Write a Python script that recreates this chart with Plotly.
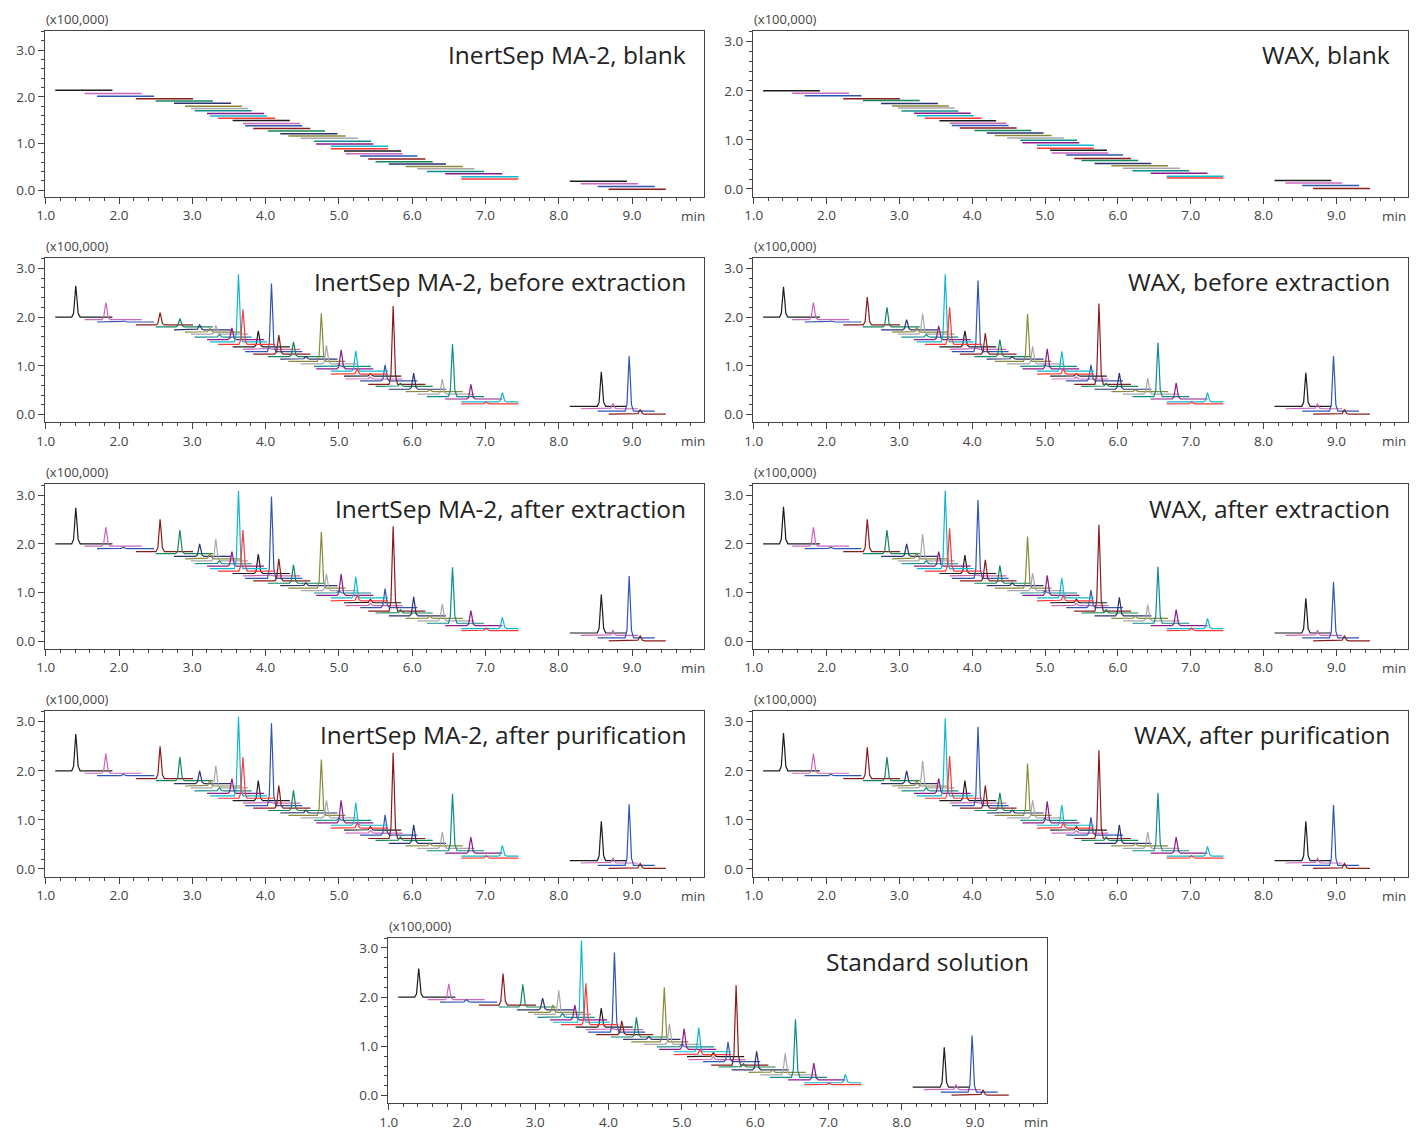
import plotly.graph_objects as go

# target positions are given in page pixels of the 1417x1131 view; the
# offset and slight shrink measured on the rendered page are compensated
OX, OY = 16, 8
SX, SY = 0.993, 0.997
W, H = 1401, 1123
VISIBLE_RIGHT = 1407

# 12-colour cycle used for the compound traces
COLORS = ["#1c1c1c", "#cc66bb", "#2f55b5", "#8b1c1c", "#13865a", "#2a3270",
          "#8a8a3a", "#a8a8a8", "#0e8c8c", "#8b1a8b", "#10b8d0", "#ff3838"]

# acquisition windows (min) of the 40 compound channels
WIN_START = [1.13, 1.53, 1.70, 2.23, 2.50, 2.75, 2.90, 2.98, 3.03, 3.20,
             3.24, 3.35, 3.55, 3.69, 3.72, 3.83, 4.03, 4.20, 4.31, 4.48,
             4.66, 4.69, 4.89, 4.89, 5.07, 5.09, 5.29, 5.40, 5.50, 5.68,
             5.91, 6.07, 6.20, 6.45, 6.67, 6.67, 8.15, 8.30, 8.53, 8.68]
WIN_END = [1.91, 2.31, 2.48, 3.01, 3.28, 3.53, 3.68, 3.76, 3.81, 3.98,
           4.02, 4.13, 4.33, 4.47, 4.50, 4.61, 4.81, 4.98, 5.09, 5.26,
           5.44, 5.47, 5.67, 5.67, 5.85, 5.87, 6.07, 6.18, 6.28, 6.46,
           6.69, 6.85, 6.98, 7.23, 7.45, 7.45, 8.93, 9.08, 9.31, 9.46]
# retention times (min)
RT = [1.41, 1.82, 2.06, 2.56, 2.83, 3.10, 3.24, 3.32, 3.37, 3.54,
      3.63, 3.69, 3.90, 4.05, 4.08, 4.18, 4.38, 4.55, 4.76, 4.83,
      5.00, 5.03, 5.23, 5.25, 5.43, 5.43, 5.63, 5.74, 5.84, 6.02,
      6.24, 6.41, 6.55, 6.80, 7.23, 7.01, 8.58, 8.74, 8.96, 9.11]

# baseline offsets (x100,000)
LEVEL_MA2_BLANK = [2.14, 2.07, 2.01, 1.96, 1.91, 1.86, 1.80, 1.75, 1.70, 1.64,
                   1.59, 1.54, 1.49, 1.43, 1.38, 1.32, 1.27, 1.21, 1.16, 1.11,
                   1.05, 0.99, 0.94, 0.89, 0.84, 0.78, 0.73, 0.67, 0.61, 0.56,
                   0.51, 0.46, 0.40, 0.35, 0.29, 0.24, 0.19, 0.14, 0.08, 0.02]
LEVEL = [2.00, 1.95, 1.90, 1.84, 1.80, 1.74, 1.69, 1.65, 1.59, 1.54,
         1.49, 1.44, 1.39, 1.34, 1.29, 1.24, 1.19, 1.14, 1.09, 1.04,
         0.99, 0.94, 0.89, 0.83, 0.79, 0.73, 0.69, 0.62, 0.58, 0.52,
         0.47, 0.42, 0.37, 0.32, 0.26, 0.22, 0.17, 0.12, 0.07, 0.01]

# peak heights above baseline (x100,000)
H_MA2_BEFORE = [0.64, 0.35, 0.02, 0.25, 0.17, 0.10, 0.08, 0.18, 0.05, 0.24,
                1.39, 0.72, 0.33, 0.02, 1.40, 0.39, 0.30, 0.05, 0.99, 0.38,
                0.03, 0.39, 0.42, 0.10, 0.05, 0.04, 0.33, 1.61, 0.06, 0.33,
                0.04, 0.31, 1.08, 0.30, 0.19, 0.04, 0.71, 0.10, 1.13, 0.09]
H_WAX_BEFORE = [0.62, 0.35, 0.02, 0.57, 0.40, 0.21, 0.10, 0.42, 0.05, 0.28,
                1.39, 0.76, 0.33, 0.02, 1.46, 0.43, 0.35, 0.05, 0.98, 0.36,
                0.03, 0.41, 0.41, 0.10, 0.05, 0.04, 0.33, 1.66, 0.06, 0.33,
                0.04, 0.33, 1.11, 0.33, 0.19, 0.04, 0.69, 0.10, 1.13, 0.09]
H_MA2_AFTER = [0.74, 0.39, 0.03, 0.66, 0.48, 0.26, 0.12, 0.44, 0.06, 0.30,
               1.60, 0.84, 0.40, 0.02, 1.68, 0.45, 0.38, 0.06, 1.15, 0.34,
               0.04, 0.44, 0.43, 0.10, 0.07, 0.05, 0.39, 1.74, 0.07, 0.39,
               0.05, 0.35, 1.15, 0.31, 0.23, 0.05, 0.79, 0.10, 1.27, 0.10]
H_WAX_AFTER = [0.76, 0.39, 0.03, 0.66, 0.48, 0.26, 0.12, 0.55, 0.06, 0.30,
               1.60, 0.88, 0.38, 0.02, 1.61, 0.43, 0.36, 0.06, 1.06, 0.36,
               0.04, 0.41, 0.41, 0.10, 0.07, 0.05, 0.36, 1.77, 0.07, 0.38,
               0.05, 0.33, 1.16, 0.33, 0.21, 0.05, 0.71, 0.10, 1.15, 0.10]
H_MA2_PURIF = [0.75, 0.40, 0.03, 0.66, 0.48, 0.26, 0.12, 0.45, 0.06, 0.30,
               1.61, 0.84, 0.41, 0.02, 1.68, 0.46, 0.41, 0.06, 1.14, 0.36,
               0.04, 0.46, 0.46, 0.10, 0.07, 0.05, 0.41, 1.75, 0.07, 0.38,
               0.05, 0.33, 1.16, 0.33, 0.22, 0.05, 0.80, 0.10, 1.25, 0.10]
H_WAX_PURIF = [0.77, 0.40, 0.03, 0.64, 0.48, 0.26, 0.12, 0.55, 0.06, 0.30,
               1.58, 0.86, 0.41, 0.02, 1.61, 0.46, 0.36, 0.06, 1.06, 0.36,
               0.04, 0.44, 0.41, 0.10, 0.07, 0.05, 0.36, 1.80, 0.07, 0.38,
               0.05, 0.33, 1.18, 0.33, 0.20, 0.05, 0.80, 0.10, 1.23, 0.10]
H_STANDARD = [0.58, 0.32, 0.05, 0.64, 0.46, 0.24, 0.15, 0.49, 0.08, 0.30,
              1.66, 0.84, 0.39, 0.02, 1.62, 0.28, 0.40, 0.06, 1.11, 0.42,
              0.05, 0.42, 0.49, 0.11, 0.08, 0.06, 0.40, 1.62, 0.07, 0.38,
              0.05, 0.44, 1.18, 0.34, 0.17, 0.04, 0.81, 0.10, 1.15, 0.10]

# peak profile template (offset in min, fraction of height)
PEAK_DT = [-0.055, -0.03, -0.015, 0.0, 0.015, 0.032, 0.06]
PEAK_FR = [0.0, 0.12, 0.62, 1.0, 0.62, 0.12, 0.0]

TITLES = ["InertSep MA-2, blank", "WAX, blank",
          "InertSep MA-2, before extraction", "WAX, before extraction",
          "InertSep MA-2, after extraction", "WAX, after extraction",
          "InertSep MA-2, after purification", "WAX, after purification",
          "Standard solution"]

# panel geometry in page pixels: (left, right, top, bottom)
COLS = {"L": (44, 703), "R": (752, 1407), "C": (387, 1046)}
ROWS = [(31, 197), (258, 423), (485, 650), (712, 878), (939, 1105)]

PANELS = [
    ("L", 0, LEVEL_MA2_BLANK, None, [-0.14, 3.41]),
    ("R", 0, LEVEL, None, [-0.16, 3.22]),
    ("L", 1, LEVEL, H_MA2_BEFORE, [-0.16, 3.22]),
    ("R", 1, LEVEL, H_WAX_BEFORE, [-0.16, 3.22]),
    ("L", 2, LEVEL, H_MA2_AFTER, [-0.16, 3.22]),
    ("R", 2, LEVEL, H_WAX_AFTER, [-0.16, 3.22]),
    ("L", 3, LEVEL, H_MA2_PURIF, [-0.16, 3.22]),
    ("R", 3, LEVEL, H_WAX_PURIF, [-0.16, 3.22]),
    ("C", 4, LEVEL, H_STANDARD, [-0.16, 3.21]),
]


def fx(px):
    return min(1.0, max(0.0, (px - OX) / SX / W))


def fy(py):
    return min(1.0, max(0.0, 1 - (py - OY) / SY / H))


FONT = "Open Sans, Noto Sans, sans-serif"
fig = go.Figure()
annotations = []
layout = {}

for k, (col, row, levels, heights, yr) in enumerate(PANELS):
    l, r = COLS[col]
    t, b = ROWS[row]
    xn = "x" if k == 0 else f"x{k+1}"
    yn = "y" if k == 0 else f"y{k+1}"
    for c in range(len(COLORS)):
        xs, ys = [], []
        for i in range(len(WIN_START)):
            if i % len(COLORS) != c:
                continue
            lv = levels[i]
            xs.append(WIN_START[i]); ys.append(lv)
            if heights is not None:
                for dt, fr in zip(PEAK_DT, PEAK_FR):
                    xs.append(RT[i] + dt); ys.append(lv + heights[i] * fr)
            xs.append(WIN_END[i]); ys.append(lv)
            xs.append(None); ys.append(None)
        fig.add_trace(go.Scatter(x=xs, y=ys, mode="lines", xaxis=xn, yaxis=yn,
                                 line=dict(color=COLORS[c], width=1.2 if heights else 1.5),
                                 hoverinfo="skip", showlegend=False))
    axx = dict(domain=[fx(l), fx(r)], anchor=yn, range=[0.99, 9.98],
               tick0=1, dtick=1, tickformat=".1f", ticks="outside", ticklen=6,
               tickcolor="#444", showline=True, mirror=True, linecolor="#444",
               linewidth=1, showgrid=False, zeroline=False,
               tickfont=dict(family=FONT, size=13.5, color="#444"),
               minor=dict(dtick=0.2, tick0=1, ticks="outside", ticklen=3,
                          tickcolor="#444", showgrid=False))
    axy = dict(domain=[fy(b), fy(t)], anchor=xn, range=yr,
               tick0=0, dtick=1, tickformat=".1f", ticks="outside", ticklen=6,
               tickcolor="#444", showline=True, mirror=True, linecolor="#444",
               linewidth=1, showgrid=False, zeroline=False,
               tickfont=dict(family=FONT, size=13.5, color="#444"),
               minor=dict(dtick=0.2, tick0=0, ticks="outside", ticklen=3,
                          tickcolor="#444", showgrid=False))
    layout["xaxis" if k == 0 else f"xaxis{k+1}"] = axx
    layout["yaxis" if k == 0 else f"yaxis{k+1}"] = axy
    annotations.append(dict(text=TITLES[k], xref="paper", yref="paper",
                            x=fx(r - 16), y=fy(t + 24),
                            xanchor="right", yanchor="middle", showarrow=False,
                            font=dict(family=FONT, size=24.5, color="#222")))
    annotations.append(dict(text="(x100,000)", xref="paper", yref="paper",
                            x=fx(l - 1), y=fy(t - 12), xanchor="left",
                            yanchor="middle", showarrow=False,
                            font=dict(family=FONT, size=13, color="#444")))
    annotations.append(dict(text="min", xref="paper", yref="paper",
                            x=fx(min(r + 3, VISIBLE_RIGHT)), y=fy(b + 19),
                            xanchor="right", yanchor="middle", showarrow=False,
                            font=dict(family=FONT, size=13.5, color="#444")))

fig.update_layout(width=W, height=H, margin=dict(l=0, r=0, t=0, b=0),
                  paper_bgcolor="white", plot_bgcolor="white",
                  annotations=annotations, showlegend=False, **layout)
fig.write_html("out.html")
